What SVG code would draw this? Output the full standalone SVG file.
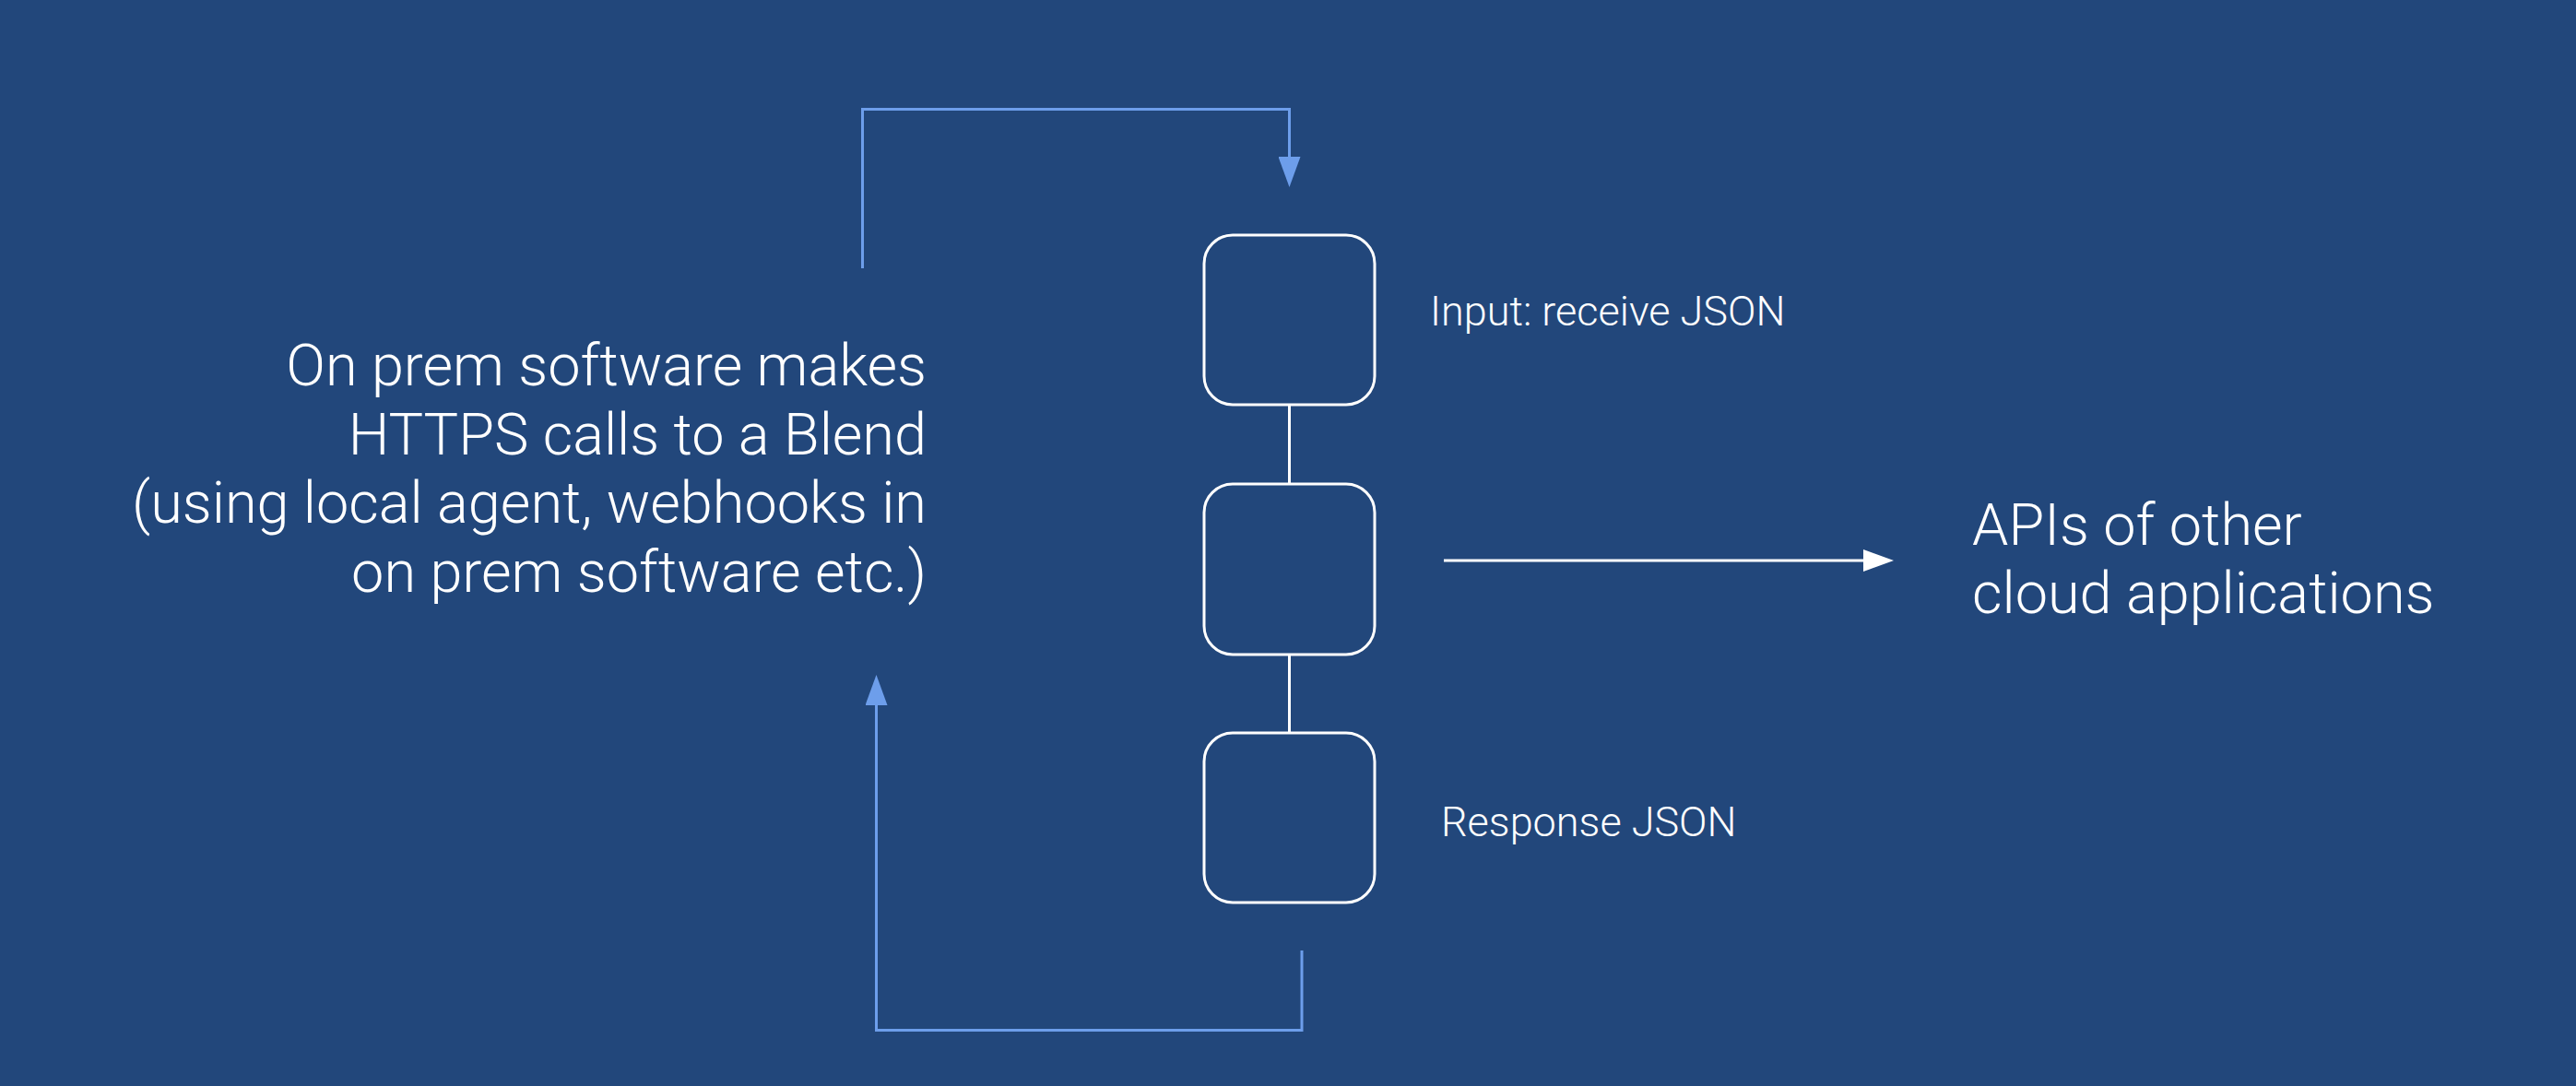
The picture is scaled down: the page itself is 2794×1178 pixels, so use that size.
<svg xmlns="http://www.w3.org/2000/svg" width="2794" height="1178" viewBox="0 0 2794 1178">
  <style>
    .bg { fill: #22477b; }
    .box { fill: none; stroke: #ffffff; stroke-width: 3; }
    .link { fill: none; stroke: #ffffff; stroke-width: 3; }
    .flow { fill: none; stroke: #6d9eeb; stroke-width: 3; }
    .out { fill: none; stroke: #ffffff; stroke-width: 3; }
    .big { font-family: Roboto, "Liberation Sans", sans-serif; font-weight: 300; font-size: 63px; fill: #ffffff; }
    .right { text-anchor: end; }
    .small { font-family: Roboto, "Liberation Sans", sans-serif; font-weight: 300; font-size: 45px; fill: #ffffff; }
  </style>
  <defs>
    <marker id="headBlue" markerUnits="userSpaceOnUse" markerWidth="34" markerHeight="24" refX="0" refY="12" orient="auto">
      <path d="M0,0 L33,12 L0,24 Z" fill="#6d9eeb"/>
    </marker>
    <marker id="headWhite" markerUnits="userSpaceOnUse" markerWidth="34" markerHeight="24" refX="0" refY="12" orient="auto">
      <path d="M0,0 L33,12 L0,24 Z" fill="#ffffff"/>
    </marker>
  </defs>
  <rect class="bg" x="0" y="0" width="2794" height="1178"/>

  <g id="connectors">
    <path class="flow" d="M935.5,291 V118.5 H1398.5 V170" marker-end="url(#headBlue)"/>
    <path class="flow" d="M1412,1031 V1117.5 H950.5 V765" marker-end="url(#headBlue)"/>
    <path class="out" d="M1566,608 H2021" marker-end="url(#headWhite)"/>
    <line class="link" x1="1398.5" y1="439" x2="1398.5" y2="525"/>
    <line class="link" x1="1398.5" y1="710" x2="1398.5" y2="795"/>
  </g>

  <g id="source-text">
    <text class="big right" x="1005" y="418">On prem software makes</text>
    <text class="big right" x="1005" y="492.5">HTTPS calls to a Blend</text>
    <text class="big right" x="1005" y="567">(using local agent, webhooks in</text>
    <text class="big right" x="1005" y="641.5">on prem software etc.)</text>
  </g>

  <g id="step-input">
    <rect class="box" x="1306" y="255" width="185" height="184" rx="31" ry="31"/>
    <text class="small" x="1551" y="353">Input: receive JSON</text>
  </g>
  <g id="step-middle">
    <rect class="box" x="1306" y="525" width="185" height="185" rx="31" ry="31"/>
  </g>
  <g id="step-response">
    <rect class="box" x="1306" y="795" width="185" height="184" rx="31" ry="31"/>
    <text class="small" x="1563" y="907">Response JSON</text>
  </g>

  <g id="cloud-apis">
    <text class="big" x="2139" y="590.5">APIs of other</text>
    <text class="big" x="2139" y="665">cloud applications</text>
  </g>
</svg>
